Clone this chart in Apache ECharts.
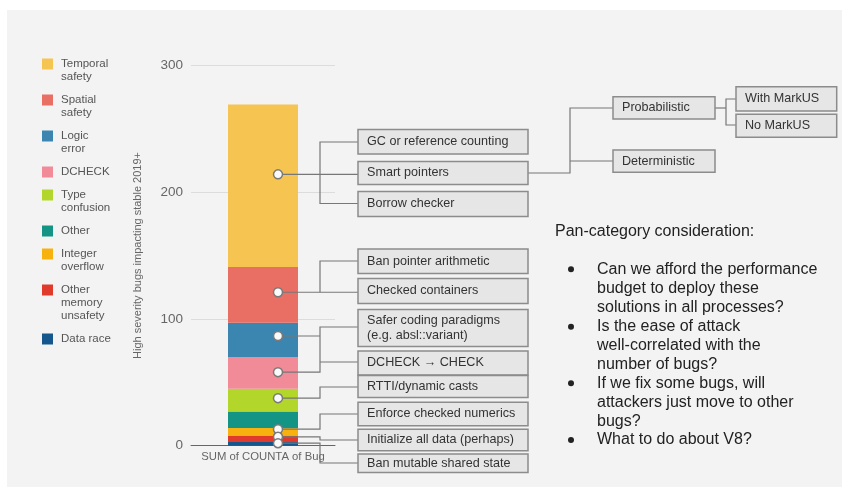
<!DOCTYPE html>
<html><head><meta charset="utf-8">
<script src="https://cdn.jsdelivr.net/npm/echarts@6/dist/echarts.min.js"></script>
<style>html,body{margin:0;padding:0;background:#fff}#c{width:860px;height:501px}</style>
</head><body><div id="c"></div>
<script>
// ---- data ----
const categories = ['SUM of COUNTA of Bug'];
// stacked from bottom to top
const seriesNames = ['Data race','Other memory unsafety','Integer overflow','Other','Type confusion','DCHECK','Logic error','Spatial safety','Temporal safety'];
const seriesValues = [3, 5, 6, 13, 18, 25, 27, 44, 128];
const seriesColors = ['#15578c','#df3a2b','#f8b20f','#139485','#b2d62a','#f18b98','#3a86b1','#e96e63','#f5c451'];
// legend labels, top to bottom (wrapped as in the reference)
const legendLabels = ['Temporal\nsafety','Spatial\nsafety','Logic\nerror','DCHECK','Type\nconfusion','Other','Integer\noverflow','Other\nmemory\nunsafety','Data race'];
const yTicks = [0, 100, 200, 300];
const yAxisName = 'High severity bugs impacting stable 2019+';
// annotation dots on the bar (values)
const dotValues = [214, 121, 86.5, 58, 37.5, 13, 7, 2];
const mitigationTexts = ['GC or reference counting','Smart pointers','Borrow checker','Ban pointer arithmetic','Checked containers','Safer coding paradigms\n(e.g. absl::variant)','DCHECK \u2192 CHECK','RTTI/dynamic casts','Enforce checked numerics','Initialize all data (perhaps)','Ban mutable shared state'];
const smartPtrTexts = ['Probabilistic','Deterministic'];
const markusTexts = ['With MarkUS','No MarkUS'];
const panTitle = 'Pan-category consideration:';
const panBullets = [
  ['Can we afford the performance','budget to deploy these','solutions in all processes?'],
  ['Is the ease of attack','well-correlated with the','number of bugs?'],
  ['If we fix some bugs, will','attackers just move to other','bugs?'],
  ['What to do about V8?']
];

// ---- layout (positions/styles) ----
const FONT = '"Liberation Sans", Arial, sans-serif';
const chart = echarts.init(document.getElementById('c'), null, {renderer: 'canvas'});

const series = seriesNames.map((n, i) => ({
  name: n, type: 'bar', stack: 'all', barWidth: 70,
  data: [seriesValues[i]],
  itemStyle: {color: seriesColors[i]},
  z: 2
}));
series.push({
  type: 'scatter', name: 'dots', data: dotValues.map(v => [0, v]),
  symbol: 'circle', symbolSize: 9, symbolOffset: [15, 0],
  itemStyle: {color: '#fafafa', borderColor: '#7a7a7a', borderWidth: 1.5, opacity: 1},
  z: 10, silent: true
});

chart.setOption({
  animation: false,
  backgroundColor: '#f3f3f3',
  grid: {left: 191, right: 525, top: 65.3, bottom: 55.3, containLabel: false},
  xAxis: {
    type: 'category', data: categories,
    axisLine: {show: true, lineStyle: {color: '#666', width: 1}},
    axisTick: {show: false},
    axisLabel: {color: '#666', fontSize: 11.3, fontFamily: FONT, margin: 6}
  },
  yAxis: {
    type: 'value', min: 0, max: 300, interval: 100,
    name: yAxisName, nameLocation: 'middle', nameGap: 48, nameRotate: 90,
    nameTextStyle: {color: '#666', fontSize: 11, fontFamily: FONT},
    axisLine: {show: false}, axisTick: {show: false},
    axisLabel: {color: '#666', fontSize: 13.5, fontFamily: FONT, margin: 8,
      formatter: v => yTicks.includes(v) ? String(v) : ''},
    splitLine: {lineStyle: {color: '#dcdcdc', width: 1}}
  },
  series: series
});

// ---- annotations ----
const g = [];
// white frame around slide
g.push({type:'rect', shape:{x:0,y:0,width:860,height:10}, style:{fill:'#fff'}, z:0});
g.push({type:'rect', shape:{x:0,y:0,width:7,height:501}, style:{fill:'#fff'}, z:0});
g.push({type:'rect', shape:{x:842,y:0,width:18,height:501}, style:{fill:'#fff'}, z:0});
g.push({type:'rect', shape:{x:0,y:487,width:860,height:14}, style:{fill:'#fff'}, z:0});

// legend
let ly = 64;
legendLabels.forEach((lab, i) => {
  const color = seriesColors[seriesColors.length - 1 - i];
  const lines = lab.split('\n').length;
  g.push({type:'rect', shape:{x:42, y:ly-5.5, width:11, height:11}, style:{fill:color}, z:5});
  g.push({type:'text', x:61, y:ly-6.5, style:{text:lab, fill:'#555', font:'11.5px ' + FONT, lineHeight:13, verticalAlign:'top'}, z:5});
  ly += lines * 13 + 10;
});

function box(x, y, w, h, text) {
  g.push({type:'rect', shape:{x:x, y:y, width:w, height:h}, style:{fill:'#e6e6e6', stroke:'#8c8c8c', lineWidth:1.5}, z:6});
  g.push({type:'text', x:x + 9, y:y + h / 2, style:{text:text, fill:'#333', font:'12.6px ' + FONT, lineHeight:15.5, verticalAlign:'middle'}, z:7});
}
const mbY = [129.5, 161.5, 191.5, 249, 278.5, 309.5, 351, 375.5, 402.3, 429.3, 454];
const mbH = [24.5, 23, 25, 24.5, 25, 37, 24, 22, 23.4, 21.4, 18.5];
mitigationTexts.forEach((t, i) => box(358, mbY[i], 170, mbH[i], t));
box(613, 96.7, 102, 22.3, smartPtrTexts[0]);
box(613, 150, 102, 22.3, smartPtrTexts[1]);
box(736, 86.7, 100.7, 24.3, markusTexts[0]);
box(736, 114.3, 100.7, 23, markusTexts[1]);

// connectors
const pts = dotValues.map(v => {
  const p = chart.convertToPixel({seriesIndex: seriesNames.length}, [0, v]);
  return [p[0] + 15, p[1]];
});
const BX = 320, L = 358;
const conn = [];
const line = arr => conn.push(arr);
line([pts[0], [L, pts[0][1]]]);
line([[L,142],[BX,142],[BX,203.5],[L,203.5]]);
line([pts[1], [L, pts[1][1]]]);
line([[L,261],[BX,261],[BX,pts[1][1]]]);
line([pts[2], [BX, pts[2][1]]]);
line([[L,327],[BX,327],[BX,pts[3][1]], pts[3]]);
line([[BX,362],[L,362]]);
line([pts[4], [BX, pts[4][1]], [BX,387], [L,387]]);
line([pts[5], [BX, pts[5][1]], [BX,414], [L,414]]);
line([pts[6], [BX, pts[6][1]], [BX,440], [L,440]]);
line([pts[7], [BX, pts[7][1]], [BX,463], [L,463]]);
// smart pointers tree
line([[528,173],[570,173],[570,108],[613,108]]);
line([[570,161],[613,161]]);
line([[715,108],[726,108]]);
line([[736,99],[726,99],[726,125],[736,125]]);
conn.forEach(pl => g.push({type:'polyline', shape:{points:pl}, style:{stroke:'#777', lineWidth:1.2, fill:null}, z:5}));

// right text block
g.push({type:'text', x:555, y:232, style:{text:panTitle, fill:'#222', font:'16px ' + FONT, verticalAlign:'middle'}, z:5});
const bulletY = [269.3, 326.7, 383.3, 440];
panBullets.forEach((lines, i) => {
  g.push({type:'circle', shape:{cx:571, cy:bulletY[i], r:3}, style:{fill:'#222'}, z:5});
  g.push({type:'text', x:597, y:bulletY[i] - 9.4, style:{text:lines.join('\n'), fill:'#222', font:'16px ' + FONT, lineHeight:18.9, verticalAlign:'top'}, z:5});
});

chart.setOption({graphic: {elements: g}});
</script>
</body></html>
